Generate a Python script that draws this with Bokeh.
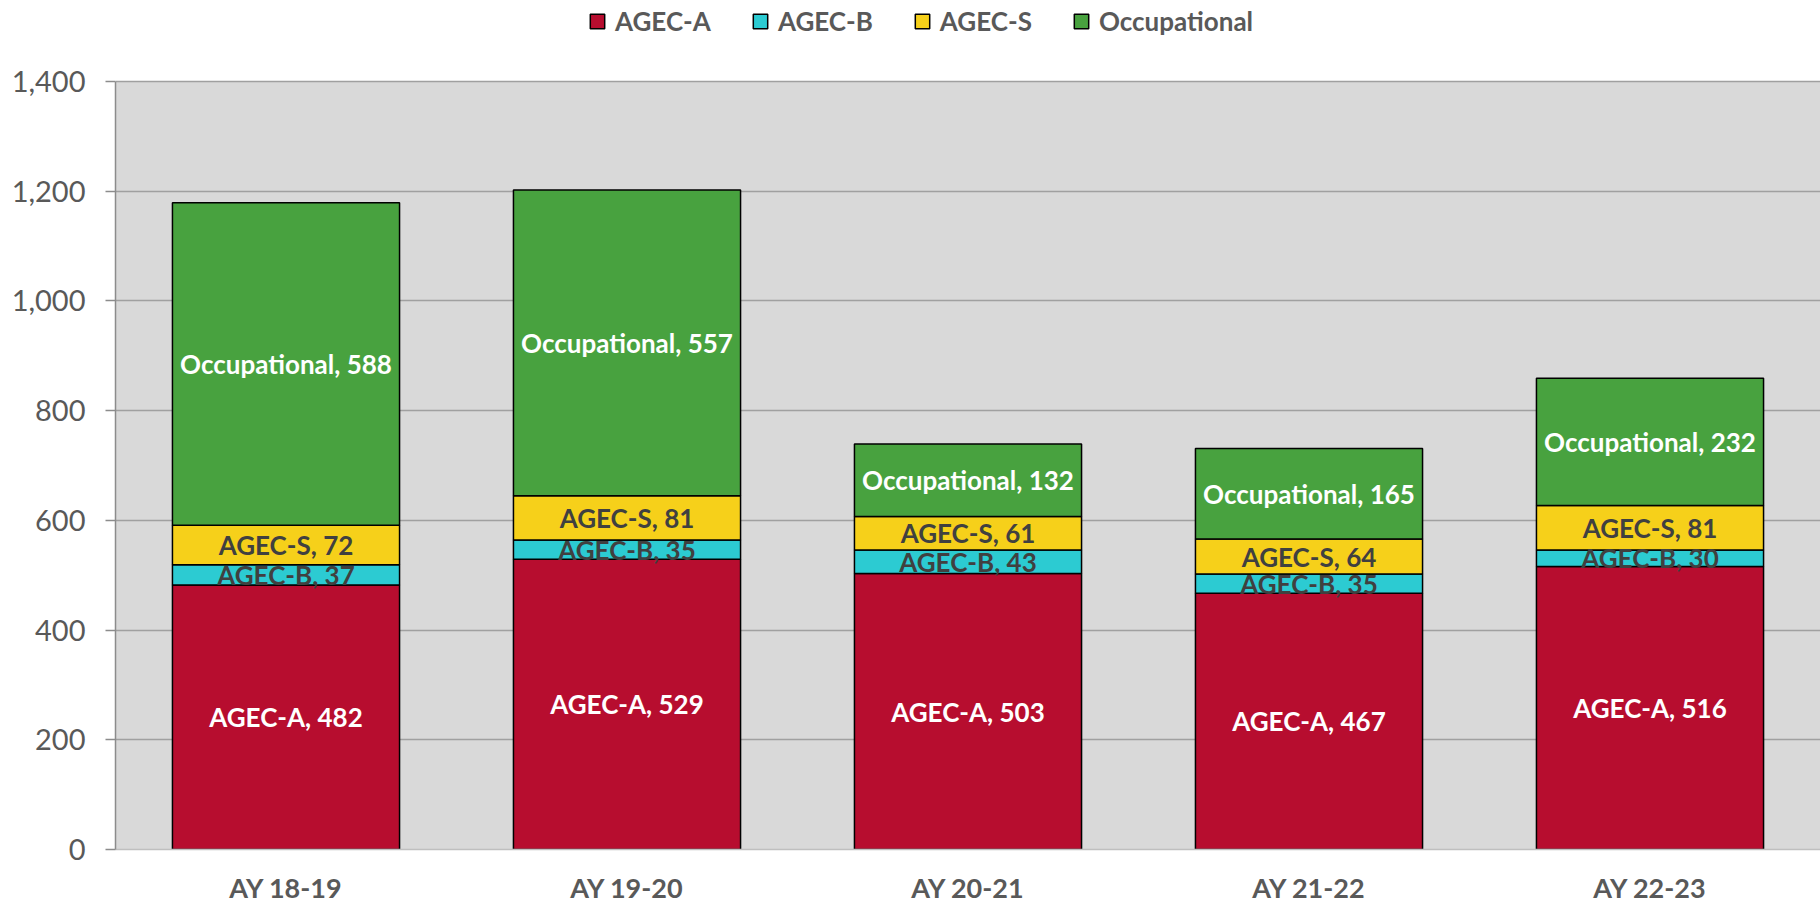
from bokeh.plotting import figure
from bokeh.models import (ColumnDataSource, FactorRange, Range1d, FixedTicker,
                          NumeralTickFormatter, Legend, LegendItem, BoxAnnotation)
from bokeh.core.properties import value
from bokeh.embed import file_html
from bokeh.resources import INLINE

years = ["AY 18-19", "AY 19-20", "AY 20-21", "AY 21-22", "AY 22-23"]
series = ["AGEC-A", "AGEC-B", "AGEC-S", "Occupational"]
agec_a = [482, 529, 503, 467, 516]
agec_b = [37, 35, 43, 35, 30]
agec_s = [72, 81, 61, 64, 81]
occupational = [588, 557, 132, 165, 232]
y_ticks = [0, 200, 400, 600, 800, 1000, 1200, 1400]
y_max = 1400

colors = ["#B70D2F", "#2CCBD2", "#F6D01A", "#48A23F"]
label_colors = ["white", "#404040", "#404040", "white"]
FONT = "Lato"

values = [agec_a, agec_b, agec_s, occupational]
src = ColumnDataSource(dict(year=years, **{s: v for s, v in zip(series, values)}))

# frame spans the full height above the x axis; the white strip on top holds the legend
H, BOTTOM = 906, 57
frame_h = H - BOTTOM
plot_top_px = 81
y_end = y_max * frame_h / (frame_h - plot_top_px)

p = figure(x_range=FactorRange(*years), y_range=Range1d(0, y_end),
           width=1820, height=H, output_backend="svg", toolbar_location=None,
           min_border_left=115, min_border_right=0, min_border_top=0,
           min_border_bottom=BOTTOM, background_fill_color="white",
           border_fill_color="white", outline_line_color=None)

p.add_layout(BoxAnnotation(bottom=0, top=y_max, fill_color="#D9D9D9", fill_alpha=1,
                           line_alpha=0, level="image"))

rs = p.vbar_stack(series, x="year", width=0.666, source=src,
                  fill_color=colors, line_color="black", line_width=1.5)

# data labels at segment centres
base = [0] * len(years)
for s, v, lc in zip(series, values, label_colors):
    mids = [b + x / 2 for b, x in zip(base, v)]
    texts = [f"{s}, {x}" for x in v]
    p.text(x=years, y=mids, text=texts, text_align="center", text_baseline="middle",
           text_font=value(FONT), text_font_style="bold", text_font_size="26px",
           text_color=lc)
    base = [b + x for b, x in zip(base, v)]

p.xgrid.grid_line_color = None
p.ygrid.grid_line_color = "#A0A0A0"
p.ygrid.grid_line_width = 1.5

p.yaxis.ticker = FixedTicker(ticks=y_ticks)
p.yaxis.bounds = (0, y_max)
p.yaxis.formatter = NumeralTickFormatter(format="0,0")
p.yaxis.axis_line_color = "#8C8C8C"
p.yaxis.axis_line_width = 1.5
p.yaxis.major_tick_line_color = "#8C8C8C"
p.yaxis.major_tick_line_width = 1.5
p.yaxis.major_tick_out = 10
p.yaxis.major_tick_in = 0
p.yaxis.minor_tick_line_color = None
p.yaxis.major_label_standoff = 20
p.yaxis.major_label_text_font = FONT
p.yaxis.major_label_text_font_size = "29px"
p.yaxis.major_label_text_color = "#595959"

p.xaxis.axis_line_color = "#BFBFBF"
p.xaxis.axis_line_width = 1.5
p.xaxis.major_tick_line_color = None
p.xaxis.minor_tick_line_color = None
p.xaxis.major_label_standoff = 15
p.xaxis.major_label_text_font = FONT
p.xaxis.major_label_text_font_style = "bold"
p.xaxis.major_label_text_font_size = "27px"
p.xaxis.major_label_text_color = "#595959"

legend = Legend(items=[LegendItem(label=s, renderers=[r]) for s, r in zip(series, rs)],
                orientation="horizontal", location=(473, 812),
                padding=0, spacing=40, label_standoff=9,
                glyph_width=18, glyph_height=18,
                label_text_font=FONT, label_text_font_style="bold",
                label_text_font_size="26px", label_text_color="#595959",
                border_line_alpha=0, background_fill_alpha=0)
p.add_layout(legend, "center")

open("out.html", "w").write(file_html(p, INLINE))
